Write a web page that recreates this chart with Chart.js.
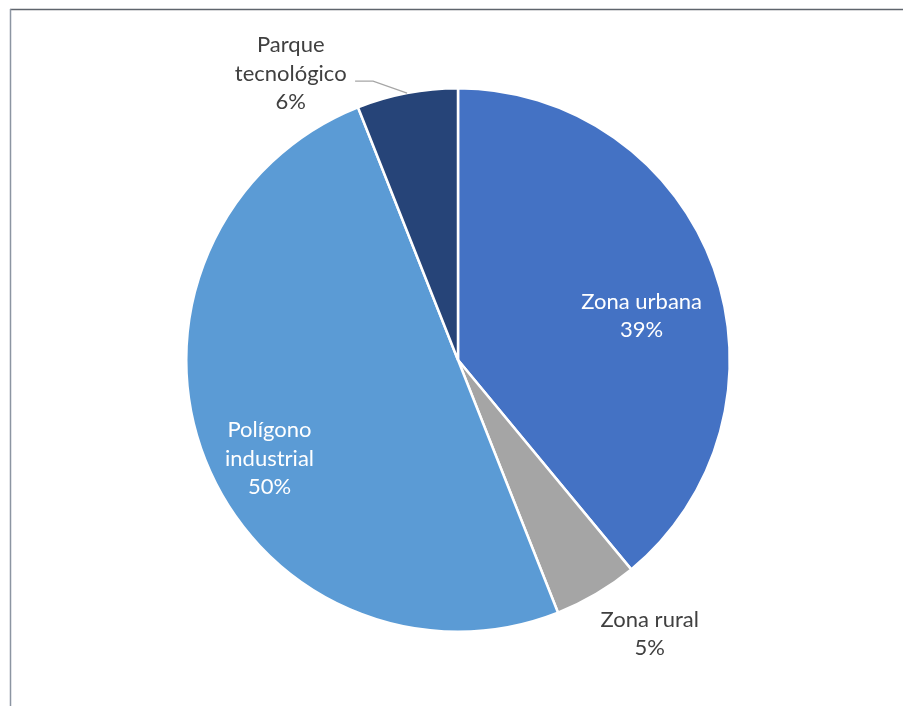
<!DOCTYPE html>
<html>
<head>
<meta charset="utf-8">
<script src="https://cdn.jsdelivr.net/npm/chart.js@4.4.1/dist/chart.umd.min.js"></script>
<style>
  html, body { margin: 0; padding: 0; background: #fff; }
  #wrap { position: relative; width: 903px; height: 706px; }
</style>
</head>
<body>
<div id="wrap"><canvas id="pie" width="903" height="706"></canvas></div>
<script>
// zonas y porcentajes
var zonas = ['Zona urbana', 'Zona rural', 'Polígono industrial', 'Parque tecnológico'];
var porcentajes = [39, 5, 50, 6];
var etiquetas = [['Zona urbana'], ['Zona rural'], ['Polígono', 'industrial'], ['Parque', 'tecnológico']];

var colores = ['#4472C4', '#A5A5A5', '#5B9BD5', '#264478'];

// where each label sits: distance from centre (x radius), angle nudge (deg), inside the slice or not
var colocacion = [
    { r: 0.695, da: 6.3, dentro: true },
    { r: 1.23, da: -4.4, dentro: false },
    { r: 0.783, da: -6.05, dentro: true },
    { r: 1.22, da: -19.5, dentro: false, guia: true }
];

var marco = {
    id: 'marco',
    beforeDraw: function (chart) {
        var c = chart.ctx;
        c.save();
        c.lineWidth = 1.5;
        c.strokeStyle = '#5f656d';
        c.beginPath();
        c.moveTo(10, 9.5);
        c.lineTo(chart.width, 9.5);
        c.stroke();
        c.strokeStyle = '#8c95a2';
        c.beginPath();
        c.moveTo(10.5, 9);
        c.lineTo(10.5, chart.height);
        c.stroke();
        c.restore();
    }
};

var rotulos = {
    id: 'rotulos',
    afterDatasetsDraw: function (chart) {
        var c = chart.ctx;
        var arcs = chart.getDatasetMeta(0).data;
        var total = porcentajes.reduce(function (a, b) { return a + b; }, 0);
        c.save();
        c.font = '22px Lato';
        c.textAlign = 'center';
        c.textBaseline = 'middle';
        arcs.forEach(function (arc, i) {
            var p = colocacion[i];
            var mid = (arc.startAngle + arc.endAngle) / 2;
            var a = mid + p.da * Math.PI / 180;
            var R = arc.outerRadius;
            var x = arc.x + Math.cos(a) * R * p.r;
            var y = arc.y + Math.sin(a) * R * p.r;
            var lineas = etiquetas[i].concat([Math.round(porcentajes[i] / total * 100) + '%']);
            var lh = 28.5;
            var y0 = y - (lineas.length - 1) * lh / 2;
            if (p.guia) {
                var ex = arc.x + Math.cos(mid) * R;
                var ey = arc.y + Math.sin(mid) * R;
                c.strokeStyle = '#a6a6a6';
                c.lineWidth = 1.2;
                c.beginPath();
                c.moveTo(ex, ey);
                c.lineTo(ex - 34, ey - 12);
                c.lineTo(ex - 52, ey - 12);
                c.stroke();
            }
            c.fillStyle = p.dentro ? '#ffffff' : '#404040';
            lineas.forEach(function (t, k) {
                c.fillText(t, x, y0 + k * lh);
            });
        });
        c.restore();
    }
};

new Chart(document.getElementById('pie').getContext('2d'), {
    type: 'pie',
    data: {
        labels: zonas,
        datasets: [{
            data: porcentajes,
            backgroundColor: colores,
            borderColor: '#ffffff',
            borderWidth: 2.5
        }]
    },
    options: {
        responsive: false,
        animation: false,
        layout: { padding: { top: 87, bottom: 73, left: 185, right: 172 } },
        plugins: {
            legend: { display: false },
            tooltip: { enabled: false }
        }
    },
    plugins: [marco, rotulos]
});
</script>
</body>
</html>
